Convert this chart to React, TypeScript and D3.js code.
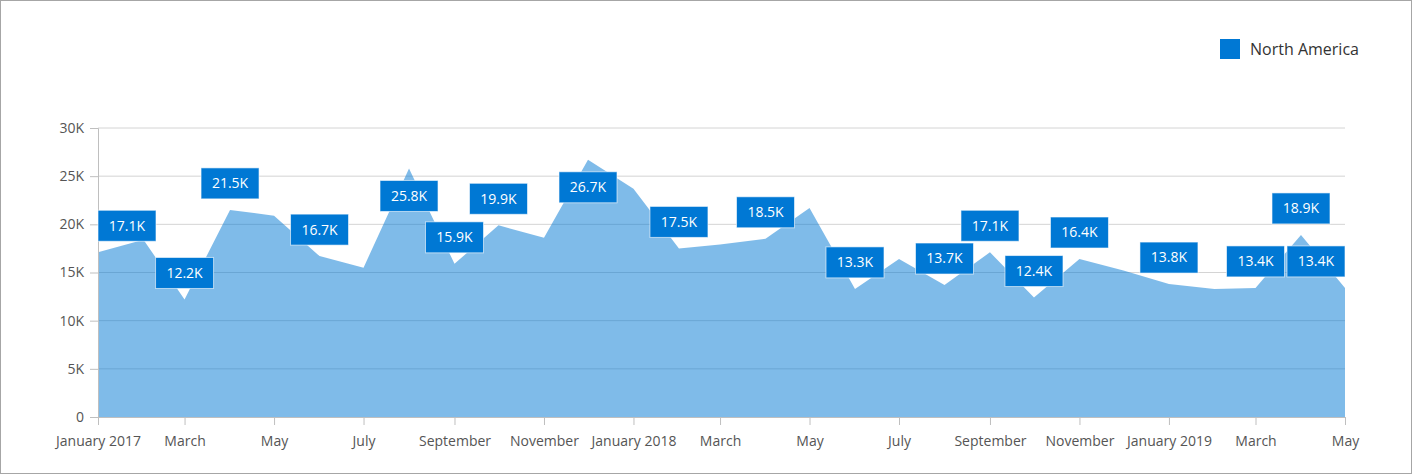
import { useEffect, useRef } from 'react'
import * as d3 from 'd3'

const MONTHS = [
  '2017-01', '2017-02', '2017-03', '2017-04', '2017-05', '2017-06', '2017-07', '2017-08', '2017-09', '2017-10', '2017-11', '2017-12',
  '2018-01', '2018-02', '2018-03', '2018-04', '2018-05', '2018-06', '2018-07', '2018-08', '2018-09', '2018-10', '2018-11', '2018-12',
  '2019-01', '2019-02', '2019-03', '2019-04', '2019-05',
]
const SALES = [
  17100, 18400, 12200, 21500, 20900, 16700, 15500, 25800, 15900, 19900, 18600, 26700,
  23700, 17500, 17900, 18500, 21700, 13300, 16400, 13700, 17100, 12400, 16400, 15200,
  13800, 13300, 13400, 18900, 13400,
]
// months whose value carries a label box
const LABELED = [
  '2017-01', '2017-03', '2017-04', '2017-06', '2017-08', '2017-09', '2017-10', '2017-12',
  '2018-02', '2018-04', '2018-06', '2018-08', '2018-09', '2018-10', '2018-11',
  '2019-01', '2019-03', '2019-04', '2019-05',
]
const Y_TICKS = [0, 5000, 10000, 15000, 20000, 25000, 30000]
const SERIES = 'North America'

const W = 1412, H = 474
const M = { left: 98, right: 1345, top: 128, bottom: 417 }
const BLUE = '#0078d4'
const FONT = '"Segoe UI", "Open Sans", sans-serif'

export default function App() {
  const ref = useRef<SVGSVGElement>(null)

  useEffect(() => {
    document.body.style.margin = '0'
    const svg = d3.select(ref.current!)
    svg.selectAll('*').remove()
    const parse = d3.timeParse('%Y-%m')
    const data = MONTHS.map((m, i) => ({ m, date: parse(m)!, v: SALES[i] }))

    const x = d3.scaleTime().domain([data[0].date, data[data.length - 1].date]).range([M.left, M.right])
    const y = d3.scaleLinear().domain([0, 30000]).range([M.bottom, M.top])

    svg.append('rect').attr('x', 0.5).attr('y', 0.5).attr('width', W - 1).attr('height', H - 1)
      .attr('fill', '#fff').attr('stroke', '#a6a6a6')

    // grid
    svg.append('g').selectAll('line').data(Y_TICKS.filter((t) => t > 0)).join('line')
      .attr('x1', M.left).attr('x2', M.right).attr('y1', (d) => y(d)).attr('y2', (d) => y(d))
      .attr('stroke', '#d4d4d4').attr('stroke-width', 1)

    // area
    const area = d3.area<typeof data[0]>().x((d) => x(d.date)).y0(y(0)).y1((d) => y(d.v))
    svg.append('path').datum(data).attr('d', area).attr('fill', BLUE).attr('fill-opacity', 0.5)

    // axes
    const yAxis = svg.append('g').attr('transform', `translate(${M.left},0)`)
      .call(d3.axisLeft(y).tickValues(Y_TICKS).tickSize(8).tickPadding(6)
        .tickFormat((d) => (+d === 0 ? '0' : `${+d / 1000}K`)))
    yAxis.select('.domain').attr('stroke', '#bfbfbf')
    yAxis.selectAll('.tick line').attr('stroke', '#bfbfbf')
    yAxis.selectAll('.tick text').attr('fill', '#555').style('font', `14px ${FONT}`)

    const xTicks = data.filter((_, i) => i % 2 === 0).map((d) => d.date)
    const xAxis = svg.append('g').attr('transform', `translate(0,${M.bottom})`)
      .call(d3.axisBottom(x).tickValues(xTicks).tickSize(8).tickPadding(11)
        .tickFormat((d) => {
          const dt = d as Date
          return dt.getMonth() === 0 ? d3.timeFormat('%B %Y')(dt) : d3.timeFormat('%B')(dt)
        }))
    xAxis.select('.domain').attr('stroke', '#bfbfbf')
    xAxis.selectAll('.tick line').attr('stroke', '#bfbfbf')
    xAxis.selectAll('.tick text').attr('fill', '#555').style('font', `14px ${FONT}`)

    // data labels: above the point, flipped below when they would leave the plot
    const bw = 58, bh = 31, gap = 11
    const lab = svg.append('g')
    data.filter((d) => LABELED.includes(d.m)).forEach((d) => {
      const px = x(d.date), py = y(d.v)
      let top = py - gap - bh
      if (top < M.top) top = py + 12
      const left = Math.max(M.left, Math.min(M.right - bw, px - bw / 2))
      lab.append('rect').attr('x', left).attr('y', top).attr('width', bw).attr('height', bh)
        .attr('fill', BLUE).attr('stroke', '#ffffff').attr('stroke-opacity', 0.6)
      lab.append('text').attr('x', left + bw / 2).attr('y', top + bh / 2).attr('dy', '0.35em')
        .attr('text-anchor', 'middle').attr('fill', '#fff').style('font', `14px ${FONT}`)
        .text(`${(d.v / 1000).toFixed(1)}K`)
    })

    // legend
    const lg = svg.append('g').attr('transform', 'translate(1220,39)')
    lg.append('rect').attr('width', 20).attr('height', 20).attr('fill', BLUE)
    lg.append('text').attr('x', 30).attr('y', 10).attr('dy', '0.35em').attr('fill', '#333')
      .style('font', `16px ${FONT}`).text(SERIES)
  }, [])

  return <svg ref={ref} width={W} height={H} style={{ display: 'block' }} />
}
